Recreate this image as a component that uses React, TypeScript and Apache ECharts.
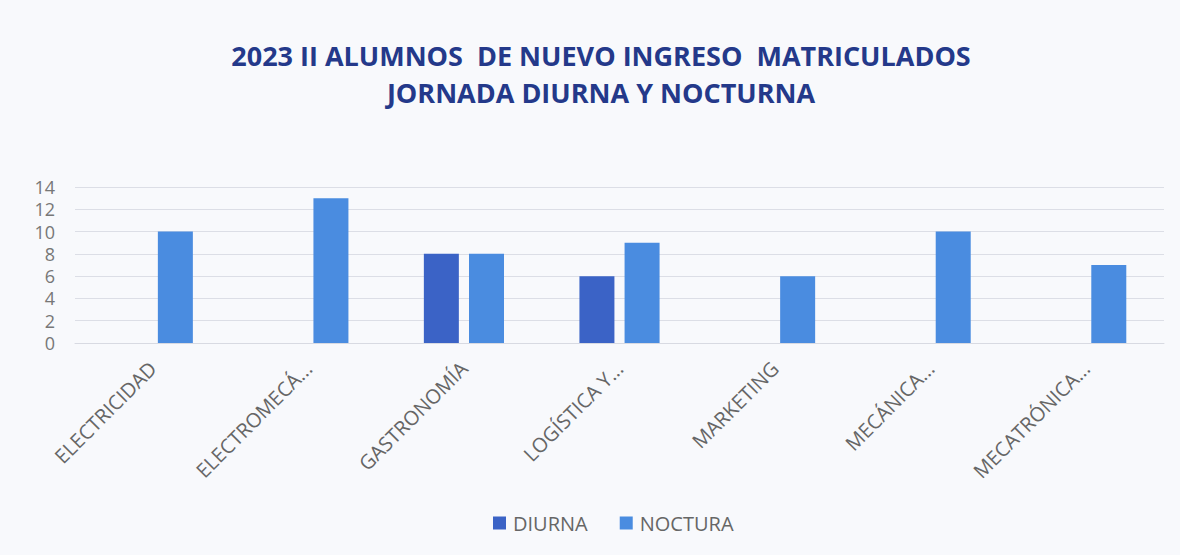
import React, { useEffect, useRef } from "react";
import * as echarts from "echarts";

const categories = [
  "ELECTRICIDAD",
  "ELECTROMECÁ...",
  "GASTRONOMÍA",
  "LOGÍSTICA Y...",
  "MARKETING",
  "MECÁNICA...",
  "MECATRÓNICA...",
];
const diurna = [null, null, 8, 6, null, null, null];
const nocturna = [10, 13, 8, 9, 6, 10, 7];
const titleText = "2023 II ALUMNOS  DE NUEVO INGRESO  MATRICULADOS\nJORNADA DIURNA Y NOCTURNA";

export default function App() {
  const ref = useRef<HTMLDivElement>(null);
  useEffect(() => {
    document.body.style.margin = "0";
    const chart = echarts.init(ref.current!, null, { renderer: "svg" });
    const font = "'Open Sans', 'Noto Sans', sans-serif";
    chart.setOption({
      animation: false,
      backgroundColor: "#f8f9fc",
      title: {
        text: titleText,
        left: 596,
        textAlign: "center",
        top: 32,
        textStyle: {
          fontFamily: font,
          fontSize: 27,
          fontWeight: "bold",
          color: "#24398a",
          lineHeight: 37,
        },
      },
      legend: {
        bottom: 17,
        left: 488,
        itemWidth: 13,
        itemHeight: 13,
        itemGap: 32,
        icon: "rect",
        textStyle: { fontFamily: font, fontSize: 20, color: "#666", padding: [0, 0, 0, 2] },
      },
      grid: { left: 75, right: 16, top: 187, bottom: 212 },
      xAxis: {
        type: "category",
        data: categories,
        axisLine: { lineStyle: { color: "#d8dae2" } },
        axisTick: { show: false },
        axisLabel: {
          rotate: 45,
          interval: 0,
          margin: 22,
          fontFamily: font,
          fontSize: 20,
          color: "#666",
        },
      },
      yAxis: {
        type: "value",
        min: 0,
        max: 14,
        interval: 2,
        axisLine: { show: false },
        axisTick: { show: false },
        splitLine: { lineStyle: { color: "#dcdee6" } },
        axisLabel: {
          margin: 20,
          fontFamily: font,
          fontSize: 18,
          lineHeight: 20,
          color: "#777",
        },
      },
      series: [
        {
          name: "DIURNA",
          type: "bar",
          data: diurna,
          barWidth: 35,
          barGap: "29%",
          itemStyle: { color: "#3b63c6" },
        },
        {
          name: "NOCTURA",
          type: "bar",
          data: nocturna,
          barWidth: 35,
          itemStyle: { color: "#4a8ce0" },
        },
      ],
    });
    return () => chart.dispose();
  }, []);
  return <div ref={ref} style={{ width: 1180, height: 555 }} />;
}
